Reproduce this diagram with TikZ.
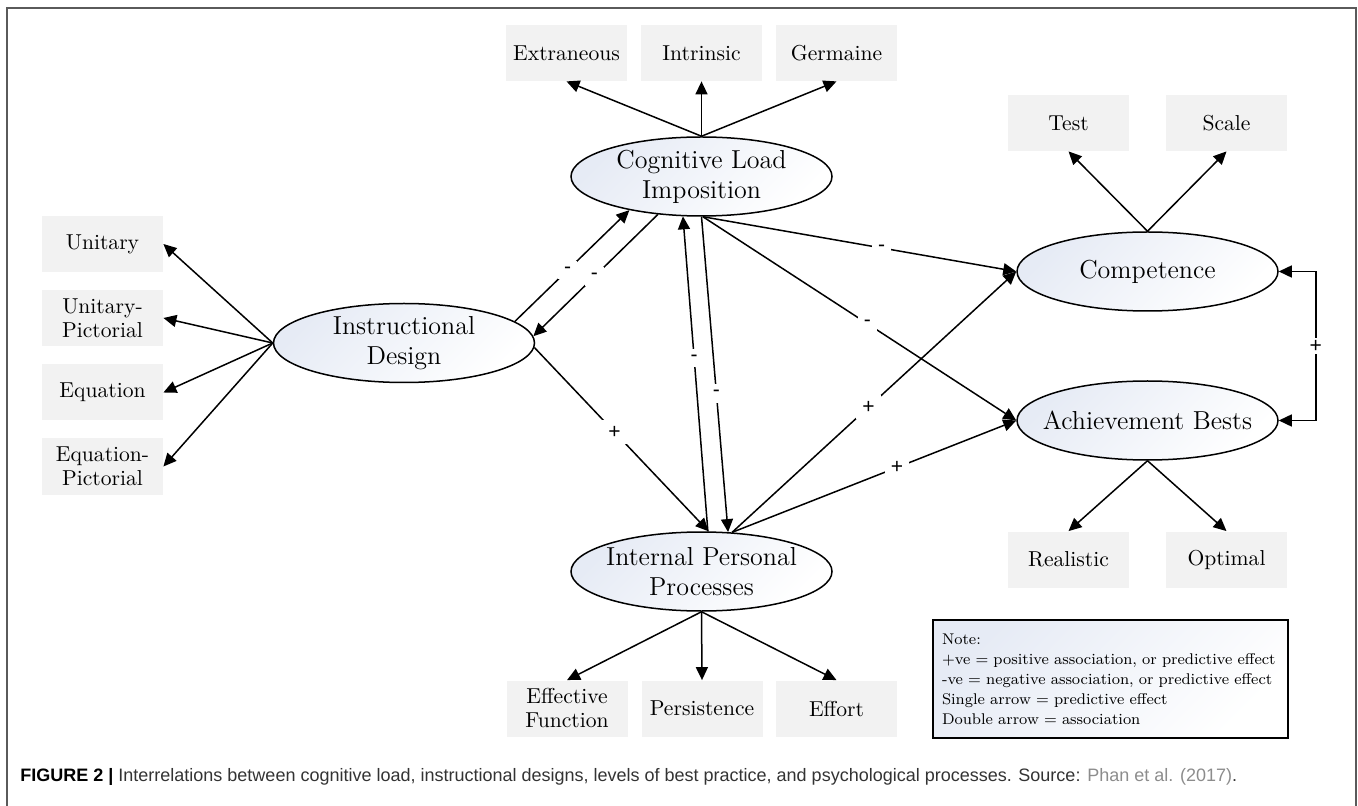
\documentclass[tikz,border=0pt]{standalone}
\usepackage{fontspec}
\newfontfamily\capfont{Liberation Sans}
\usetikzlibrary{shapes.geometric,arrows.meta}
\definecolor{boxgray}{HTML}{F2F2F2}
\definecolor{ellblue}{HTML}{E6EBF5}
\definecolor{framegray}{HTML}{5A5A5A}
\definecolor{captext}{HTML}{333333}
\definecolor{linkgray}{HTML}{8C8C8C}
\tikzset{
  latent/.style={ellipse, draw, line width=0.75pt, minimum width=130.5pt, minimum height=39.5pt, inner sep=0pt, top color=ellblue, bottom color=white, shading angle=45},
  ltext/.style={font=\fontsize{13}{15}\selectfont, align=center, inner sep=0pt},
  ind/.style={rectangle, fill=boxgray, minimum width=60.5pt, minimum height=28pt, inner sep=0pt, align=center, font=\fontsize{10.8}{12}\selectfont},
  conn/.style={line width=0.75pt, -{Triangle[length=6.5pt,width=6pt]}},
  dconn/.style={line width=0.75pt, {Triangle[length=6.5pt,width=6pt]}-{Triangle[length=6.5pt,width=6pt]}},
  lbl/.style={fill=white, inner sep=3pt, font=\capfont\fontsize{10.5}{11}\selectfont},
}
\begin{document}
\begin{tikzpicture}[x=0.5pt, y=-0.5pt]
\useasboundingbox (0,0) rectangle (1358,806);
% frame
\draw[framegray, line width=1pt] (7,806) -- (7,8) -- (1356,8) -- (1356,806);

% latent variables
\node[latent] (cli) at (701.5,176.5) {};
\node[ltext] (cliT) at (cli) {Cognitive Load\\Imposition};
\node[latent] (id) at (404,343) {};
\node[ltext] (idT) at (id) {Instructional\\Design};
\node[latent] (ipp) at (701.5,571.5) {};
\node[ltext] (ippT) at (ipp) {Internal Personal\\Processes};
\node[latent] (comp) at (1147.5,271.5) {};
\node[ltext] (compT) at (comp) {Competence};
\node[latent] (ach) at (1147.5,420.5) {};
\node[ltext] (achT) at (ach) {Achievement Bests};

% indicators
\node[ind] (extr) at (566.5,53) {Extraneous};
\node[ind] (intr) at (701.5,53) {Intrinsic};
\node[ind] (germ) at (836.5,53) {Germaine};
\node[ind] (test) at (1068.5,123) {Test};
\node[ind] (scal) at (1226.5,123) {Scale};
\node[ind] (unit) at (102.5,244) {Unitary};
\node[ind] (unitp) at (102.5,318) {Unitary-\\Pictorial};
\node[ind] (equ) at (102.5,392.5) {Equation};
\node[ind] (equp) at (102.5,466.5) {Equation-\\Pictorial};
\node[ind] (effe) at (567,708.5) {Effective\\Function};
\node[ind] (pers) at (702,708.5) {Persistence};
\node[ind] (effo) at (836.5,708.5) {Effort};
\node[ind] (real) at (1068.5,559.5) {Realistic};
\node[ind] (opti) at (1226.5,559.5) {Optimal};

% measurement arrows
\draw[conn] (cli.north) -- (extr.south);
\draw[conn] (cli.north) -- (intr.south);
\draw[conn] (cli.north) -- (germ.south);
\draw[conn] (comp.north) -- (test.south);
\draw[conn] (comp.north) -- (scal.south);
\draw[conn] (ach.south) -- (real.north);
\draw[conn] (ach.south) -- (opti.north);
\draw[conn] (id.west) -- (unit.east);
\draw[conn] (id.west) -- (unitp.east);
\draw[conn] (id.west) -- (equ.east);
\draw[conn] (id.west) -- (equp.east);
\draw[conn] (ipp.south) -- (effe.north);
\draw[conn] (ipp.south) -- (pers.north);
\draw[conn] (ipp.south) -- (effo.north);

% structural paths
\draw[conn] (id.11) -- node[lbl,pos=0.46]{-} (cli.205);
\draw[conn] (cli.221) -- node[lbl,pos=0.51]{-} (id.3);
\draw[conn] (ipp.81) -- node[lbl,pos=0.55]{-} (cli.245);
\draw[conn] (cli.south) -- node[lbl,pos=0.56]{-} (ipp.56);
\draw[conn] (cli.-88) -- node[lbl,pos=0.57]{-} (comp.west);
\draw[conn] (cli.-88) -- node[lbl,pos=0.525]{-} (ach.west);
\draw[conn] (id.-2) -- node[lbl,pos=0.46]{+} (ipp.80);
\draw[conn] (ipp.52) -- node[lbl,pos=0.48]{+} (comp.west);
\draw[conn] (ipp.52) -- node[lbl,pos=0.58]{+} (ach.west);
\draw[dconn] (comp.east) -- ++(37,0) |- node[lbl,pos=0.25,inner sep=1pt]{+} (ach.east);

% note
\node[anchor=north west, draw, line width=1pt, minimum width=177.5pt, minimum height=59pt, text width=171pt, inner xsep=3.25pt, align=left, top color=ellblue, bottom color=white, shading angle=45, font=\fontsize{7.75}{10}\selectfont] (note) at (932,619) {\hspace*{1.25pt}Note:\\\hspace*{1.25pt}+ve = positive association, or predictive effect\\\hspace*{1.25pt}-ve = negative association, or predictive effect\\\hspace*{1.25pt}Single arrow = predictive effect\\\hspace*{1.25pt}Double arrow = association};

% caption
\node[anchor=base west, inner sep=0pt, font=\capfont\fontsize{9}{10}\selectfont, text=captext] (cap) at (20,781) {\textbf{\color{black}FIGURE 2 |} Interrelations between cognitive load, instructional designs, levels of best practice, and psychological processes. Source: {\color{linkgray}Phan et al. (2017)}.};
\end{tikzpicture}
\end{document}
